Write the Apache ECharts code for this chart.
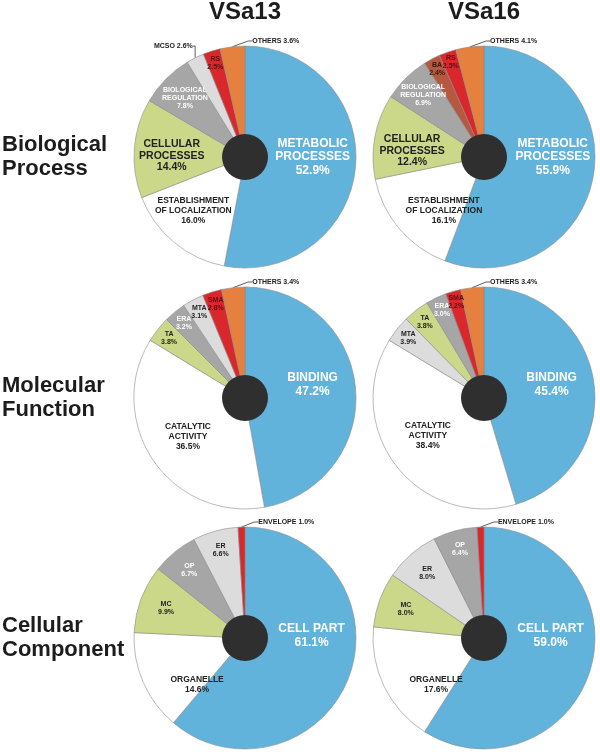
<!DOCTYPE html>
<html>
<head>
<meta charset="utf-8">
<script src="https://cdn.jsdelivr.net/npm/echarts@6/dist/echarts.min.js"></script>
<style>html,body{margin:0;padding:0;background:#fff}#chart{width:600px;height:756px}</style>
</head>
<body>
<div id="chart"></div>
<script>
// ---------- DATA ----------
const columnTitles = ['VSa13', 'VSa16'];
const rowTitles = ['Biological\nProcess', 'Molecular\nFunction', 'Cellular\nComponent'];

const bpVSa13Names = ['METABOLIC\nPROCESSES', 'ESTABLISHMENT\nOF LOCALIZATION', 'CELLULAR\nPROCESSES', 'BIOLOGICAL\nREGULATION', 'MCSO', 'RS', 'OTHERS'];
const bpVSa13Values = [52.9, 16.0, 14.4, 7.8, 2.6, 2.5, 3.6];

const bpVSa16Names = ['METABOLIC\nPROCESSES', 'ESTABLISHMENT\nOF LOCALIZATION', 'CELLULAR\nPROCESSES', 'BIOLOGICAL\nREGULATION', 'BA', 'RS', 'OTHERS'];
const bpVSa16Values = [55.9, 16.1, 12.4, 6.9, 2.4, 2.5, 4.1];

const mfVSa13Names = ['BINDING', 'CATALYTIC\nACTIVITY', 'TA', 'ERA', 'MTA', 'SMA', 'OTHERS'];
const mfVSa13Values = [47.2, 36.5, 3.8, 3.2, 3.1, 2.8, 3.4];

const mfVSa16Names = ['BINDING', 'CATALYTIC\nACTIVITY', 'MTA', 'TA', 'ERA', 'SMA', 'OTHERS'];
const mfVSa16Values = [45.4, 38.4, 3.9, 3.8, 3.0, 2.2, 3.4];

const ccVSa13Names = ['CELL PART', 'ORGANELLE', 'MC', 'OP', 'ER', 'ENVELOPE'];
const ccVSa13Values = [61.1, 14.6, 9.9, 6.7, 6.6, 1.0];

const ccVSa16Names = ['CELL PART', 'ORGANELLE', 'MC', 'ER', 'OP', 'ENVELOPE'];
const ccVSa16Values = [59.0, 17.6, 8.0, 8.0, 6.4, 1.0];

// ---------- STYLE ----------
const C = {
  blue: '#62b3dc', white: '#ffffff', green: '#cbd88a', gray: '#a7a6a6',
  light: '#dddcdc', red: '#d9272b', orange: '#e5803f', brown: '#b5583f'
};
const FONT = '"Liberation Sans", Arial, sans-serif';
const sizes = {
  big: [12, 13.5], mid: [10.5, 11.5], med: [8.5, 10], small: [7, 8]
};
const PIE_R = 111;
const centers = [[245, 157], [484, 157], [245, 398], [484, 398], [245, 638], [484, 638]];

// label specs: t=size class, c=text colour, f=radial fraction, a=optional label angle (deg, clockwise from top)
// out=[dx,dy] in radius units for outside labels
const bpVSa13Style = {
  colors: [C.blue, C.white, C.green, C.gray, C.light, C.red, C.orange],
  labels: [
    {t: 'big', c: '#fff', f: 0.61, a: 90},
    {t: 'med', c: '#222', f: 0.67, a: 224},
    {t: 'mid', c: '#222', f: 0.66, a: 271},
    {t: 'small', c: '#fff', f: 0.76},
    {t: 'small', c: '#222', out: [-0.47, -1.0], align: 'right'},
    {t: 'small', c: '#5e1010', f: 0.89},
    {t: 'small', c: '#222', out: [0.065, -1.045], align: 'left'}
  ]
};
const bpVSa16Style = {
  colors: [C.blue, C.white, C.green, C.gray, C.brown, C.red, C.orange],
  labels: [
    {t: 'big', c: '#fff', f: 0.62, a: 90},
    {t: 'med', c: '#222', f: 0.6, a: 217},
    {t: 'mid', c: '#222', f: 0.65, a: 275},
    {t: 'small', c: '#fff', f: 0.78},
    {t: 'small', c: '#3a1a12', f: 0.9},
    {t: 'small', c: '#5e1010', f: 0.91},
    {t: 'small', c: '#222', out: [0.055, -1.045], align: 'left'}
  ]
};
const mfVSa13Style = {
  colors: [C.blue, C.white, C.green, C.gray, C.light, C.red, C.orange],
  labels: [
    {t: 'big', c: '#fff', f: 0.62, a: 79},
    {t: 'med', c: '#222', f: 0.62, a: 236},
    {t: 'small', c: '#222', f: 0.87},
    {t: 'small', c: '#fff', f: 0.87},
    {t: 'small', c: '#222', f: 0.88},
    {t: 'small', c: '#5e1010', f: 0.89},
    {t: 'small', c: '#222', out: [0.065, -1.045], align: 'left'}
  ]
};
const mfVSa16Style = {
  colors: [C.blue, C.white, C.light, C.green, C.gray, C.red, C.orange],
  labels: [
    {t: 'big', c: '#fff', f: 0.62, a: 79},
    {t: 'med', c: '#222', f: 0.61, a: 236},
    {t: 'small', c: '#222', f: 0.87},
    {t: 'small', c: '#222', f: 0.87},
    {t: 'small', c: '#fff', f: 0.88},
    {t: 'small', c: '#5e1010', f: 0.9},
    {t: 'small', c: '#222', out: [0.055, -1.045], align: 'left'}
  ]
};
const ccVSa13Style = {
  colors: [C.blue, C.white, C.green, C.gray, C.light, C.red],
  labels: [
    {t: 'big', c: '#fff', f: 0.6, a: 88},
    {t: 'med', c: '#222', f: 0.6, a: 226},
    {t: 'small', c: '#222', f: 0.76},
    {t: 'small', c: '#fff', f: 0.79},
    {t: 'small', c: '#222', f: 0.82},
    {t: 'small', c: '#222', out: [0.12, -1.045], align: 'left'}
  ]
};
const ccVSa16Style = {
  colors: [C.blue, C.white, C.green, C.light, C.gray, C.red],
  labels: [
    {t: 'big', c: '#fff', f: 0.6, a: 88},
    {t: 'med', c: '#222', f: 0.6, a: 226},
    {t: 'small', c: '#222', f: 0.75},
    {t: 'small', c: '#222', f: 0.78},
    {t: 'small', c: '#fff', f: 0.83},
    {t: 'small', c: '#222', out: [0.125, -1.045], align: 'left'}
  ]
};

const pies = [
  {names: bpVSa13Names, values: bpVSa13Values, style: bpVSa13Style},
  {names: bpVSa16Names, values: bpVSa16Values, style: bpVSa16Style},
  {names: mfVSa13Names, values: mfVSa13Values, style: mfVSa13Style},
  {names: mfVSa16Names, values: mfVSa16Values, style: mfVSa16Style},
  {names: ccVSa13Names, values: ccVSa13Values, style: ccVSa13Style},
  {names: ccVSa16Names, values: ccVSa16Values, style: ccVSa16Style}
];

// ---------- BUILD ----------
function midAngles(values) {
  const total = values.reduce((a, b) => a + b, 0);
  let cum = 0;
  return values.map(v => { const m = (cum + v / 2) / total * 360; cum += v; return m; });
}

const series = [];
pies.forEach((p, i) => {
  const center = centers[i];
  const mids = midAngles(p.values);
  const data = p.values.map((v, k) => {
    const ls = p.style.labels[k];
    const [fs, lh] = sizes[ls.t];
    const outside = !!ls.out;
    return {
      name: p.names[k],
      value: v,
      itemStyle: {color: p.style.colors[k]},
      label: {
        show: true,
        position: outside ? 'outside' : 'inside',
        formatter: outside ? (p.names[k] + ' ' + v.toFixed(1) + '%') : (p.names[k] + '\n' + v.toFixed(1) + '%'),
        color: ls.c, fontSize: fs, lineHeight: lh, fontWeight: 'bold', fontFamily: FONT,
        align: 'center'
      },
      labelLine: {show: outside, length: 6, length2: 4, smooth: false, lineStyle: {color: '#333', width: 0.8}}
    };
  });
  series.push({
    type: 'pie',
    center: center,
    radius: [0, PIE_R],
    startAngle: 90,
    clockwise: true,
    avoidLabelOverlap: false,
    silent: true,
    itemStyle: {borderColor: '#8c8c8c', borderWidth: 0.6},
    labelLine: {show: false},
    data: data,
    labelLayout: function (params) {
      const ls = p.style.labels[params.dataIndex];
      if (!ls) return {};
      if (ls.out) {
        return {
          x: center[0] + ls.out[0] * PIE_R,
          y: center[1] + ls.out[1] * PIE_R,
          align: ls.align, verticalAlign: 'middle'
        };
      }
      const ang = (ls.a != null ? ls.a : mids[params.dataIndex]) * Math.PI / 180;
      return {
        x: center[0] + ls.f * PIE_R * Math.sin(ang),
        y: center[1] - ls.f * PIE_R * Math.cos(ang),
        align: 'center', verticalAlign: 'middle'
      };
    }
  });
});
// dark centre discs
centers.forEach(c => {
  series.push({
    type: 'pie', center: c, radius: [0, 23], silent: true,
    label: {show: false}, labelLine: {show: false},
    itemStyle: {color: '#2f2f2f'},
    data: [{value: 1, name: 'hub'}]
  });
});

const titles = [];
columnTitles.forEach((t, i) => {
  titles.push({
    text: t, left: centers[i][0], top: 0, textAlign: 'center',
    textStyle: {fontSize: 24, fontWeight: 'bold', color: '#1c1c1c', fontFamily: FONT, lineHeight: 24}
  });
});
rowTitles.forEach((t, r) => {
  titles.push({
    text: t, left: 2, top: centers[r * 2][1] - 24,
    textStyle: {fontSize: 22, fontWeight: 'bold', color: '#1c1c1c', fontFamily: FONT, lineHeight: 24}
  });
});
titles.forEach(t => { t.padding = 0; });

const chart = echarts.init(document.getElementById('chart'), null, {renderer: 'canvas'});
chart.setOption({
  animation: false,
  backgroundColor: '#ffffff',
  title: titles,
  series: series
});
</script>
</body>
</html>
